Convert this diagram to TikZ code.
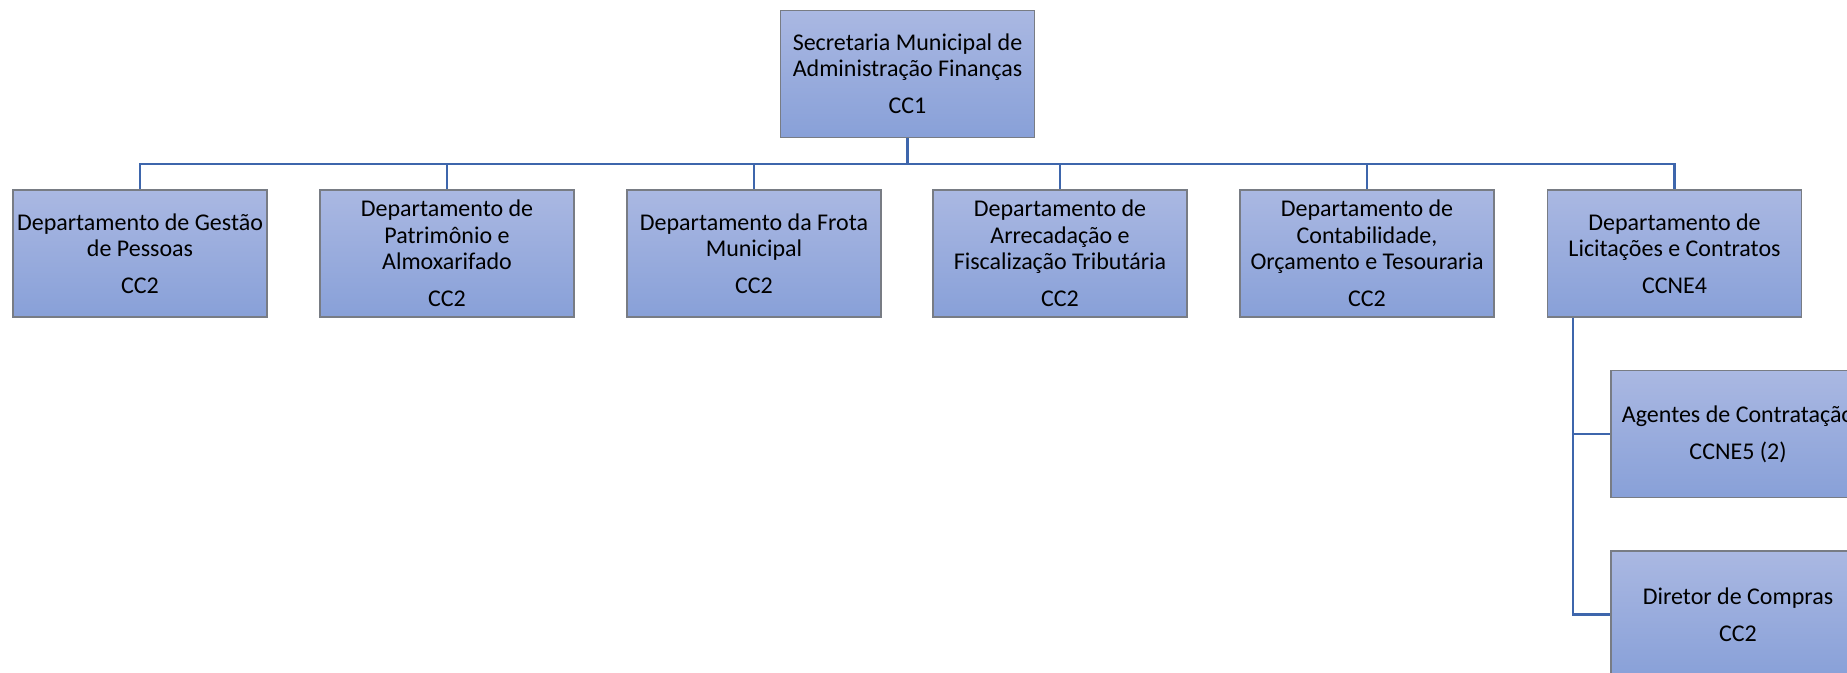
\documentclass[tikz,border=0pt]{standalone}
\usepackage{fontspec}
\setmainfont{Carlito}
\usetikzlibrary{calc}
\definecolor{boxtop}{RGB}{170,184,226}
\definecolor{boxbot}{RGB}{136,160,216}
\definecolor{boxline}{RGB}{120,124,132}
\definecolor{conn}{RGB}{62,102,172}
\tikzset{
  orgbox/.style={draw=boxline, line width=0.6pt, top color=boxtop, bottom color=boxbot,
    minimum width=127pt, minimum height=63.5pt, inner sep=0pt, align=center,
    font=\fontsize{12}{13.2}\selectfont},
  link/.style={draw=conn, line width=1.4pt}
}
\begin{document}
\begin{tikzpicture}[x=0.5pt,y=-0.5pt]
\useasboundingbox (0,0) rectangle (1847,673);
\clip (0,0) rectangle (1847,673);
\node[orgbox] (top) at (907.5,74) {Secretaria Municipal de\\Administração Finanças\\[5.3pt]CC1};
\node[orgbox] (d1) at (140,253.5) {Departamento de Gestão\\de Pessoas\\[5.3pt]CC2};
\node[orgbox] (d2) at (447,253.5) {Departamento de\\Patrimônio e\\Almoxarifado\\[5.3pt]CC2};
\node[orgbox] (d3) at (754,253.5) {Departamento da Frota\\Municipal\\[5.3pt]CC2};
\node[orgbox] (d4) at (1060,253.5) {Departamento de\\Arrecadação e\\Fiscalização Tributária\\[5.3pt]CC2};
\node[orgbox] (d5) at (1367,253.5) {Departamento de\\Contabilidade,\\Orçamento e Tesouraria\\[5.3pt]CC2};
\node[orgbox] (d6) at (1674.5,253.5) {Departamento de\\Licitações e Contratos\\[5.3pt]CCNE4};
\node[orgbox] (a1) at (1738,434) {Agentes de Contratação\\[5.3pt]CCNE5 (2)};
\node[orgbox] (a2) at (1738,614.5) {Diretor de Compras\\[5.3pt]CC2};
\foreach \d in {d1,d2,d3,d4,d5,d6}
  \draw[link] (top.south) -- ++(0,26) -| (\d.north);
\coordinate (sub) at ($(d6.south west)+(26,0)$);
\draw[link] (sub) |- (a1.west);
\draw[link] (sub) |- (a2.west);
\end{tikzpicture}
\end{document}
